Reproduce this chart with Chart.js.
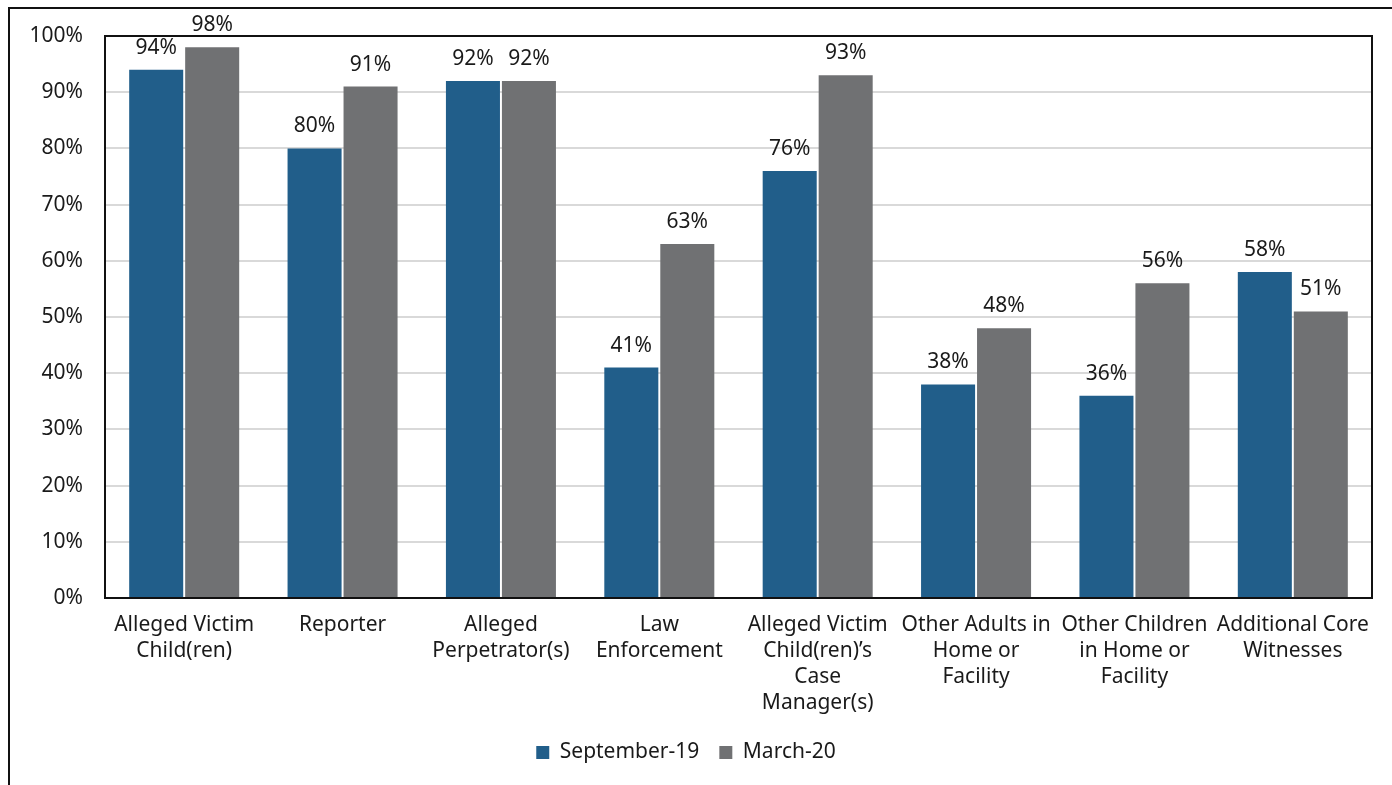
<!DOCTYPE html>
<html>
<head>
<meta charset="utf-8">
<script src="https://cdn.jsdelivr.net/npm/chart.js@4/dist/chart.umd.min.js"></script>
<style>
  html, body { margin: 0; padding: 0; background: #fff; }
  #wrap { position: relative; width: 1392px; height: 785px; }
  #frame { position: absolute; left: 8px; top: 7px; right: 0; bottom: 0; border-left: 2px solid #111; border-top: 2px solid #111; pointer-events: none; }
</style>
</head>
<body>
<div id="wrap">
  <canvas id="chart" width="1392" height="785"></canvas>
  <div id="frame"></div>
</div>
<script>
const categories = [
  ['Alleged Victim', 'Child(ren)'],
  ['Reporter'],
  ['Alleged', 'Perpetrator(s)'],
  ['Law', 'Enforcement'],
  ['Alleged Victim', 'Child(ren)\u2019s', 'Case', 'Manager(s)'],
  ['Other Adults in', 'Home or', 'Facility'],
  ['Other Children', 'in Home or', 'Facility'],
  ['Additional Core', 'Witnesses']
];
const sep19 = [94, 80, 92, 41, 76, 38, 36, 58];
const mar20 = [98, 91, 92, 63, 93, 48, 56, 51];
const seriesNames = ['September-19', 'March-20'];
const yTicks = [0, 10, 20, 30, 40, 50, 60, 70, 80, 90, 100];

const FONT = '"Noto Sans", sans-serif';
const SIZE = 21;

// value labels above each bar
const valueLabels = {
  id: 'valueLabels',
  afterDatasetsDraw(chart) {
    const ctx = chart.ctx;
    ctx.save();
    ctx.font = SIZE + 'px ' + FONT;
    ctx.fillStyle = '#1a1a1a';
    ctx.textAlign = 'center';
    ctx.textBaseline = 'alphabetic';
    chart.data.datasets.forEach((ds, i) => {
      chart.getDatasetMeta(i).data.forEach((bar, j) => {
        ctx.fillText(ds.data[j] + '%', bar.x, bar.y - 16);
      });
    });
    ctx.restore();
  }
};

// black box around the plot area
const plotBox = {
  id: 'plotBox',
  afterDraw(chart) {
    const a = chart.chartArea;
    const ctx = chart.ctx;
    ctx.save();
    ctx.strokeStyle = '#111';
    ctx.lineWidth = 2;
    ctx.strokeRect(a.left, a.top, a.right - a.left, a.bottom - a.top);
    ctx.restore();
  }
};

new Chart(document.getElementById('chart').getContext('2d'), {
  type: 'bar',
  data: {
    labels: categories,
    datasets: [
      { label: seriesNames[0], data: sep19, backgroundColor: '#215e8a' },
      { label: seriesNames[1], data: mar20, backgroundColor: '#707173' }
    ]
  },
  options: {
    responsive: false,
    animation: false,
    devicePixelRatio: 1,
    categoryPercentage: 0.707,
    barPercentage: 0.965,
    layout: { padding: { top: 36, right: 20, bottom: 12, left: 0 } },
    plugins: {
      legend: {
        position: 'bottom',
        labels: {
          font: { family: FONT, size: SIZE },
          color: '#1a1a1a',
          boxWidth: 13,
          boxHeight: 13,
          padding: 20
        }
      },
      tooltip: { enabled: false }
    },
    scales: {
      x: {
        grid: { display: false },
        border: { display: false },
        afterFit(scale) { scale.height = 124; },
        ticks: {
          font: { family: FONT, size: SIZE, lineHeight: 1.24 },
          color: '#1a1a1a',
          maxRotation: 0,
          autoSkip: false,
          padding: 6
        }
      },
      y: {
        min: 0,
        max: 100,
        afterFit(scale) { scale.width = 105; },
        afterBuildTicks(scale) { scale.ticks = yTicks.map(v => ({ value: v })); },
        grid: { color: '#d9d9d9', lineWidth: 2, drawTicks: false },
        border: { display: false },
        ticks: {
          font: { family: FONT, size: SIZE },
          color: '#1a1a1a',
          padding: 22,
          callback: v => v + '%'
        }
      }
    }
  },
  plugins: [valueLabels, plotBox]
});
</script>
</body>
</html>
